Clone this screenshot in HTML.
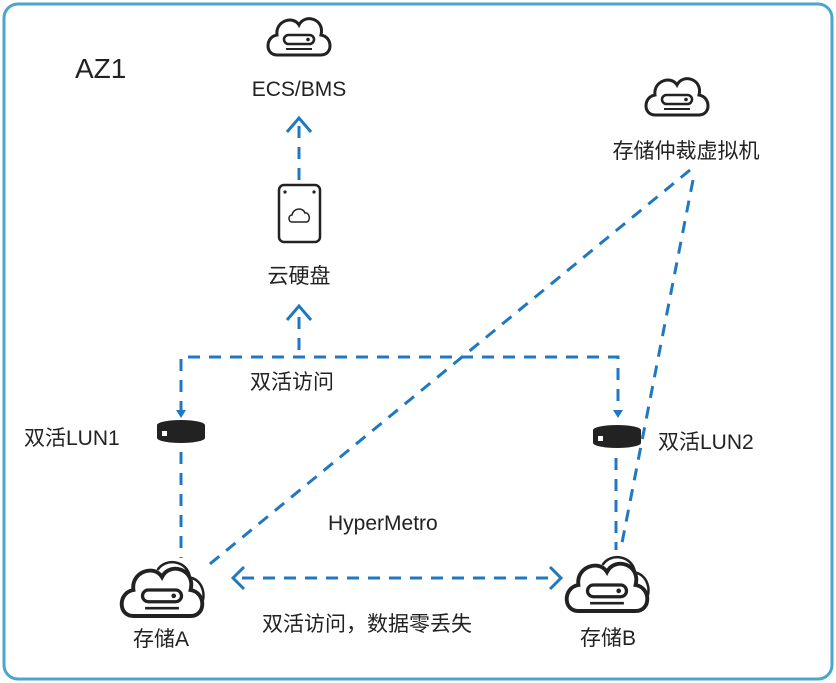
<!DOCTYPE html>
<html><head><meta charset="utf-8"><style>
html,body{margin:0;padding:0;background:#fff;}
svg{display:block;}
text{font-family:"Liberation Sans","Noto Sans CJK SC",sans-serif;fill:#222;}
</style></head><body>
<svg width="836" height="683" viewBox="0 0 836 683" xmlns="http://www.w3.org/2000/svg">
<rect x="4" y="4" width="828" height="675" rx="14" fill="#fff" stroke="#4aa6cc" stroke-width="3"/>
<defs>
<g id="cloud">
<path d="M-22,20 C-34,20 -34,2 -22,0 C-24,-14 -6,-20 0,-10 C6,-22 26,-16 22,0 C34,2 34,20 22,20 Z" fill="#fff" stroke="#222" stroke-width="3"/>
<rect x="-15" y="0" width="30" height="9" rx="4.5" fill="none" stroke="#222" stroke-width="2.5"/>
<circle cx="9" cy="4.5" r="1.8" fill="#222"/>
<line x1="-13" y1="14" x2="13" y2="14" stroke="#222" stroke-width="2"/>
</g>
<g id="lun">
<ellipse cx="0" cy="0" rx="24" ry="5" fill="#222"/>
<rect x="-24" y="0" width="48" height="13" fill="#222"/>
<ellipse cx="0" cy="13" rx="24" ry="5" fill="#222"/>
<rect x="-19" y="6" width="5" height="5" fill="#fff"/>
</g>
</defs>
<text x="75" y="78" font-size="28">AZ1</text>
<use href="#cloud" x="299" y="35"/>
<text x="299" y="96" font-size="21" text-anchor="middle">ECS/BMS</text>
<use href="#cloud" x="677" y="95"/>
<text x="686" y="158" font-size="21" text-anchor="middle">存储仲裁虚拟机</text>
<rect x="279" y="185" width="41" height="57" rx="5" fill="#fff" stroke="#222" stroke-width="2.5"/>
<circle cx="285" cy="192" r="1.6" fill="#222"/><circle cx="314" cy="192" r="1.6" fill="#222"/>
<path d="M292,222 C288,222 288,215 292,215 C293,208 303,207 305,213 C310,212 311,222 306,222 Z" fill="none" stroke="#222" stroke-width="1.5"/>
<text x="299" y="283" font-size="21" text-anchor="middle">云硬盘</text>
<g stroke="#1f78c0" stroke-width="3" fill="none" stroke-dasharray="12 9">
<line x1="299" y1="180" x2="299" y2="122"/>
<line x1="299" y1="350" x2="299" y2="310"/>
<polyline points="181,413 181,357 618,357 618,413"/>
<line x1="181" y1="452" x2="181" y2="558"/>
<line x1="616" y1="458" x2="616" y2="550"/>
<line x1="690" y1="170" x2="205" y2="568"/>
<line x1="693" y1="180" x2="621" y2="548"/>
<line x1="242" y1="578" x2="552" y2="578"/>
</g>
<g stroke="#1f78c0" stroke-width="3" fill="none">
<polyline points="287,132 299,118 311,132"/>
<polyline points="287,320 299,306 311,320"/>
<polyline points="244,567 233,578 244,589"/>
<polyline points="550,567 561,578 550,589"/>
</g>
<path d="M176,410 L186,410 L181,418 Z" fill="#1f78c0"/>
<path d="M613,410 L623,410 L618,418 Z" fill="#1f78c0"/>
<text x="250" y="389" font-size="21">双活访问</text>
<use href="#lun" x="181" y="425"/>
<text x="24" y="445" font-size="21">双活LUN1</text>
<use href="#lun" x="617" y="430"/>
<text x="658" y="449" font-size="21">双活LUN2</text>
<text x="328" y="530" font-size="21">HyperMetro</text>
<g transform="translate(170,590) scale(1.25)"><path d="M-10,-16 C-4,-26 14,-24 16,-10 C28,-8 30,10 22,14" fill="none" stroke="#222" stroke-width="2"/></g>
<g transform="translate(162,590) scale(1.3)"><use href="#cloud"/></g>
<text x="133" y="646" font-size="21">存储A</text>
<g transform="translate(615,585) scale(1.25)"><path d="M-10,-16 C-4,-26 14,-24 16,-10 C28,-8 30,10 22,14" fill="none" stroke="#222" stroke-width="2"/></g>
<g transform="translate(607,585) scale(1.3)"><use href="#cloud"/></g>
<text x="580" y="645" font-size="21">存储B</text>
<text x="262" y="631" font-size="21">双活访问，数据零丢失</text>
</svg>
</body></html>
